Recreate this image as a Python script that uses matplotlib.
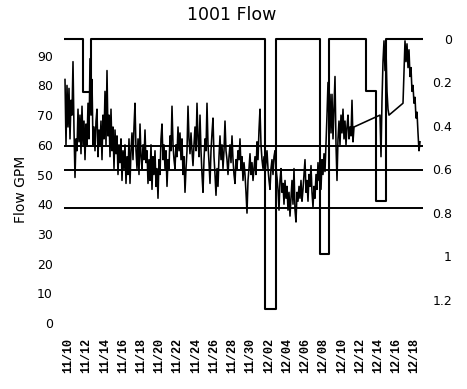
import numpy as np
import pandas as pd
import matplotlib
matplotlib.use('Agg')
import matplotlib.pyplot as plt
import matplotlib.dates as mdates

# flow readings, one every 158 min starting 11/09 15:20
start = '2008-11-09 15:20'
step = '158min'
flow_a = [82, 60, 80, 66, 79, 62, 75, 70, 88, 65, 49, 62, 58, 72, 61, 70, 57, 73, 60, 68,
          55, 67, 60, 74, 62, 89, 70, 82, 60, 66, 58, 68, 72, 56, 65, 60, 68, 55, 70, 62,
          78, 60, 85, 63, 70, 56, 72, 58, 66, 52, 65, 57, 63, 50, 60, 54, 62, 48, 58, 52,
          60, 47, 56, 50, 62, 47, 58, 64, 55, 66, 74, 58, 52, 62, 50, 67, 56, 52, 60, 55,
          65, 54, 58, 47, 55, 48, 60, 45, 56, 50, 58, 46, 52, 42, 55, 50, 62, 67, 55, 60,
          52, 58, 46, 55, 52, 63, 58, 73, 60, 55, 52, 60, 56, 66, 58, 64, 55, 62, 50, 56,
          44, 52, 58, 73, 62, 57, 64, 58, 53, 60, 66, 58, 74, 62, 56, 70, 58, 50, 44, 55,
          62, 58, 74, 60, 54, 47, 58, 64, 69, 56, 50, 43, 52, 46, 56, 63, 55, 60, 52, 58,
          68, 58, 55, 50, 56, 60, 54, 63, 55, 50, 47, 55, 52, 58, 55, 62, 52, 56, 48, 54,
          50, 44, 37, 48, 52, 57, 50, 54, 48, 52, 56, 50, 61, 55, 65, 72, 60, 55, 52, 56,
          50, 54, 58, 52, 48, 45, 52, 55, 50, 56, 58, 52, 49, 45, 38, 48, 52, 44, 47, 40,
          48, 42, 46, 38, 44, 36, 42, 48, 40, 52, 38, 34, 44, 41, 46, 42, 48, 41, 45, 50,
          55, 44, 48, 41, 50, 46, 53, 44, 39, 46, 42, 50, 45, 54, 48, 52, 45, 55, 50, 57,
          51, 60, 70, 81, 68, 77, 64, 77, 62, 72, 83, 60, 48, 62, 68, 60, 70, 64, 72, 62,
          68, 60, 66, 70, 62, 66, 63, 75, 61, 66]
# after the data gaps
flow_b_index = 315
flow_b = [70, 56, 75, 88, 95, 85, 92, 78, 72, 70]
flow_c_index = 338
flow_c = [74, 85, 95, 88, 94, 86, 92, 83, 86, 78, 80, 74, 76, 69, 71, 64, 58, 61]

# right axis step series
step_times = ['2008-11-09 15:20', '2008-11-11 14:00', '2008-11-12 12:00',
              '2008-12-01 15:00', '2008-12-02 18:00', '2008-12-07 16:00',
              '2008-12-08 15:00', '2008-12-12 17:00', '2008-12-13 18:00',
              '2008-12-14 20:00', '2008-12-18 19:00']
step_values = [0, 0.245, 0, 1.24, 0, 0.99, 0, 0.24, 0.745, 0, 0]

# horizontal limit lines (GPM)
limits = [59.7, 51.6, 38.8]

left_ticks = [0, 10, 20, 30, 40, 50, 60, 70, 80, 90]
right_ticks = [0, 0.2, 0.4, 0.6, 0.8, 1, 1.2]
right_labels = ['0', '0.2', '0.4', '0.6', '0.8', '1', '1.2']

grid = pd.date_range(start, periods=360, freq=step)
flow = pd.concat([
    pd.Series(flow_a, index=grid[:len(flow_a)]),
    pd.Series(flow_b, index=grid[flow_b_index:flow_b_index + len(flow_b)]),
    pd.Series(flow_c, index=grid[flow_c_index:flow_c_index + len(flow_c)]),
])

fig = plt.figure(figsize=(4.67, 3.89), dpi=100)
ax = fig.add_axes([64 / 467, 59 / 389, 359 / 467, 293 / 389])
ax2 = ax.twinx()

ax.plot(flow.index, flow.values, color='black', lw=1.15)
for lim in limits:
    ax.axhline(lim, color='black', lw=1.4)
ax2.plot(pd.to_datetime(step_times), step_values, drawstyle='steps-post',
         color='black', lw=1.5)

ax.set_xlim(grid[0] - (grid[1] - grid[0]), grid[358])
ax.set_ylim(-2.36, 96.3)
ax2.set_ylim(1.338, -0.009)

ax.set_yticks(left_ticks)
ax.tick_params(axis='y', length=0, pad=7.9, labelsize=9)
ax2.set_yticks(right_ticks)
ax2.set_yticklabels(right_labels)
ax2.tick_params(axis='y', length=0, pad=20.9, labelsize=9)
for t in ax2.get_yticklabels():
    t.set_horizontalalignment('right')

xt = pd.date_range('2008-11-10', '2008-12-18', freq='2D')
ax.set_xticks(xt)
ax.set_xticklabels([d.strftime('%m/%d') for d in xt], rotation=90,
                   family='Liberation Mono', weight='bold', fontsize=8.5)
ax.tick_params(axis='x', length=0, pad=5.8)

for a in (ax, ax2):
    for s in a.spines.values():
        s.set_visible(False)

ax.set_ylabel('Flow GPM', fontsize=10)
ax.yaxis.set_label_coords(-36 / 359, 0.48)
fig.text(232 / 467, 1 - 15.5 / 389, '1001 Flow', ha='center', va='center', fontsize=12.5)

fig.savefig('out.png', dpi=100)
